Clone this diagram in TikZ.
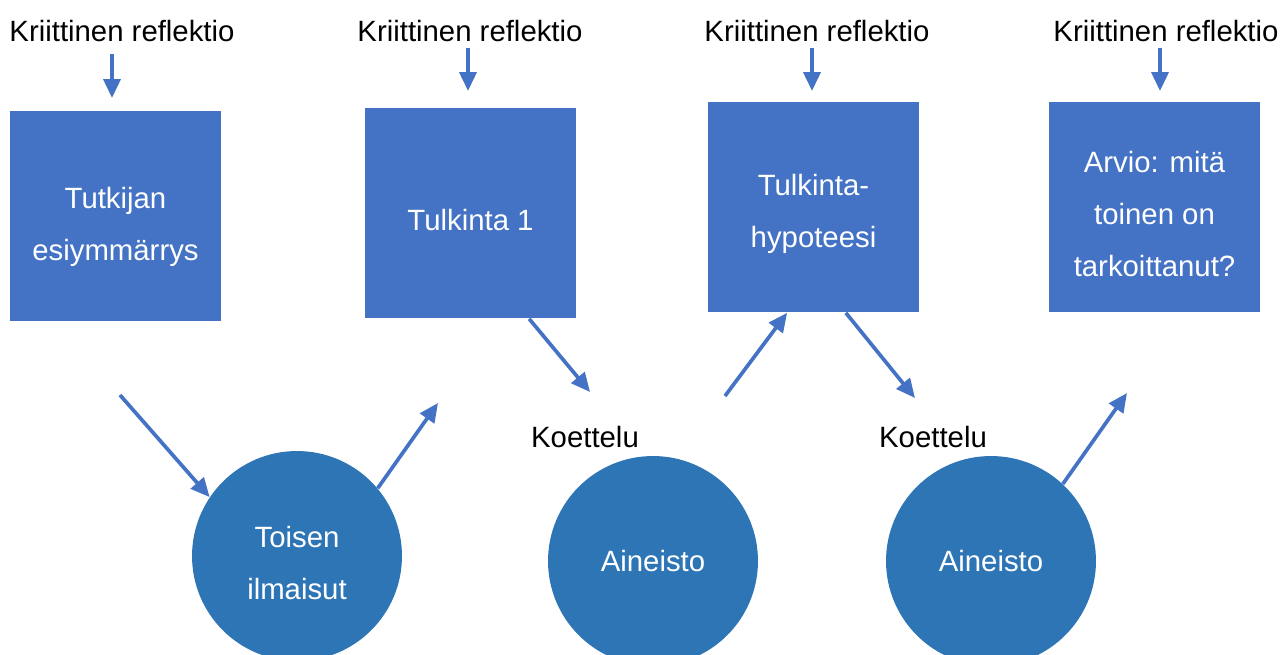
\documentclass[tikz,border=0pt]{standalone}
\usepackage{fontspec}
\setmainfont{Liberation Sans}
\usetikzlibrary{arrows.meta}

\definecolor{boxblue}{HTML}{4472C4}
\definecolor{ballblue}{HTML}{2E75B6}
\newcommand{\diagfont}{\fontsize{16.7}{29.6}\selectfont}

\tikzset{
    box/.style={fill=boxblue, minimum size=4.22cm, inner sep=0pt},
    ball/.style={circle, fill=ballblue, minimum size=4.2cm, inner sep=0pt},
    boxtext/.style={text=white, align=center, font=\diagfont, yshift=-0.14cm},
    lbl/.style={inner sep=0pt, font=\diagfont},
    arr/.style={draw=boxblue, line width=2.1pt,
        -{Triangle[length=0.38cm,width=0.34cm]}}
}

\begin{document}
\begin{tikzpicture}[x=0.02cm, y=-0.02cm]
    \useasboundingbox (0,0) rectangle (1282,654);
    % boxes
    \node[box, label={[boxtext, yshift=-0.08cm]center:Tutkijan\\esiymmärrys}] (esiymmarrys) at (115.5,216) {};
    \node[box, label={[boxtext]center:Tulkinta 1}] (tulkinta) at (470.5,213) {};
    \node[box, label={[boxtext]center:Tulkinta-\\hypoteesi}] (hypoteesi) at (813.5,207) {};
    \node[box, label={[boxtext]center:Arvio: mitä\\toinen on\\tarkoittanut?}] (arvio) at (1154.5,207) {};
    % circles
    \node[ball, label={[boxtext]center:Toisen\\ilmaisut}] (ilmaisut) at (297,556) {};
    \node[ball, label={[boxtext, yshift=0.14cm]center:Aineisto}] (aineisto1) at (653,561) {};
    \node[ball, label={[boxtext, yshift=0.14cm]center:Aineisto}] (aineisto2) at (991,561) {};
    % labels
    \node[lbl] (kr1) at (122,31) {Kriittinen reflektio};
    \node[lbl] (kr2) at (470,31) {Kriittinen reflektio};
    \node[lbl] (kr3) at (817,31) {Kriittinen reflektio};
    \node[lbl] (kr4) at (1166,31) {Kriittinen reflektio};
    \node[lbl] (koe1) at (585,437) {Koettelu};
    \node[lbl] (koe2) at (933,437) {Koettelu};
    % reflection arrows
    \coordinate (d1) at (112,98);
    \coordinate (d2) at (468,91);
    \coordinate (d3) at (812,91);
    \coordinate (d4) at (1160,91);
    \draw[arr] (kr1.south -| d1) ++(0,12) -- (d1);
    \draw[arr] (kr2.south -| d2) ++(0,6) -- (d2);
    \draw[arr] (kr3.south -| d3) ++(0,6) -- (d3);
    \draw[arr] (kr4.south -| d4) ++(0,6) -- (d4);
    % process arrows
    \coordinate (a1) at (120,395);
    \coordinate (a2) at (438,403);
    \coordinate (a3) at (590,392);
    \coordinate (a4) at (725,396);
    \coordinate (a5) at (915,398);
    \coordinate (a6) at (1127,393);
    \draw[arr] (a1) -- (ilmaisut.146);
    \draw[arr] (ilmaisut.40) -- (a2);
    \draw[arr] (tulkinta.-61) -- (a3);
    \draw[arr] (a4) -- (hypoteesi.-104);
    \draw[arr] (hypoteesi.-73) -- (a5);
    \draw[arr] (aineisto2.47) -- (a6);
\end{tikzpicture}
\end{document}
